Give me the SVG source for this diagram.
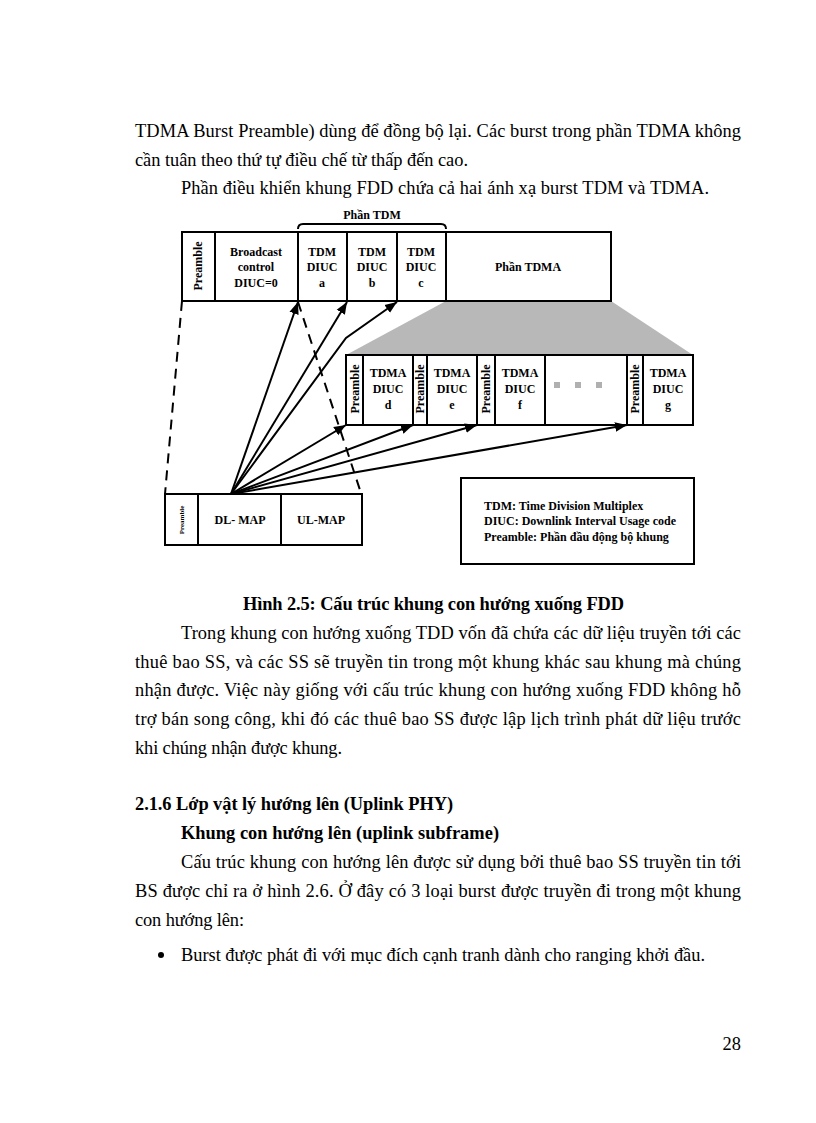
<svg xmlns="http://www.w3.org/2000/svg" width="816" height="1123" viewBox="0 0 816 1123">
<style>
.body{font-family:"Liberation Serif","Times New Roman",serif;font-size:18.4px;fill:#000}
.bold{font-weight:bold}
.lbl{font-family:"Liberation Serif","Times New Roman",serif;font-size:12px;font-weight:bold;fill:#000;text-anchor:middle}
.box{fill:#fff;stroke:#000;stroke-width:2}
.div{stroke:#000;stroke-width:2}
.arr{fill:none;stroke:#000;stroke-width:2;marker-end:url(#ah)}
.dash{fill:none;stroke:#000;stroke-width:2;stroke-dasharray:10 7}
.leg{font-family:"Liberation Serif","Times New Roman",serif;font-size:12px;font-weight:bold;fill:#000}
</style>
<defs>
<marker id="ah" viewBox="0 0 10 10" refX="10" refY="5" markerWidth="6" markerHeight="6" markerUnits="strokeWidth" orient="auto">
<path d="M0,1 L10,5 L0,9 z" fill="#000"/>
</marker>
</defs>
<rect width="816" height="1123" fill="#fff"/>

<g id="text-top">
<text class="body" x="135" y="137" textLength="606" lengthAdjust="spacing">TDMA Burst Preamble) dùng để đồng bộ lại. Các burst trong phần TDMA không</text>
<text class="body" x="135" y="166" textLength="333" lengthAdjust="spacing">cần tuân theo thứ tự điều chế từ thấp đến cao.</text>
<text class="body" x="181" y="194" textLength="528" lengthAdjust="spacing">Phần điều khiển khung FDD chứa cả hai ánh xạ burst TDM và TDMA.</text>
</g>

<g id="shade">
<polygon points="446,301 611,301 693,355 346,355" fill="#b8b8b8"/>
</g>

<g id="brace">
<path d="M298,229 Q298,224 303,224 L441,224 Q446,224 446,229" fill="none" stroke="#000" stroke-width="2"/>
<text class="lbl" x="372" y="219">Phần TDM</text>
</g>

<g id="top-frame">
<rect class="box" x="182" y="232" width="429" height="69"/>
<line class="div" x1="215" y1="232" x2="215" y2="301"/>
<line class="div" x1="298" y1="232" x2="298" y2="301"/>
<line class="div" x1="347" y1="232" x2="347" y2="301"/>
<line class="div" x1="397" y1="232" x2="397" y2="301"/>
<line class="div" x1="446" y1="232" x2="446" y2="301"/>
<text class="lbl" transform="translate(202,266) rotate(-90)">Preamble</text>
<text class="lbl" x="256" y="256">Broadcast</text>
<text class="lbl" x="256" y="271">control</text>
<text class="lbl" x="256" y="287">DIUC=0</text>
<text class="lbl" x="322" y="256">TDM</text>
<text class="lbl" x="322" y="271">DIUC</text>
<text class="lbl" x="322" y="287">a</text>
<text class="lbl" x="372" y="256">TDM</text>
<text class="lbl" x="372" y="271">DIUC</text>
<text class="lbl" x="372" y="287">b</text>
<text class="lbl" x="421" y="256">TDM</text>
<text class="lbl" x="421" y="271">DIUC</text>
<text class="lbl" x="421" y="287">c</text>
<text class="lbl" x="528" y="271">Phần TDMA</text>
</g>

<g id="tdma-frame">
<rect class="box" x="346" y="355" width="347" height="70"/>
<line class="div" x1="363" y1="355" x2="363" y2="425"/>
<line class="div" x1="413" y1="355" x2="413" y2="425"/>
<line class="div" x1="427" y1="355" x2="427" y2="425"/>
<line class="div" x1="477" y1="355" x2="477" y2="425"/>
<line class="div" x1="495" y1="355" x2="495" y2="425"/>
<line class="div" x1="545" y1="355" x2="545" y2="425"/>
<line class="div" x1="627" y1="355" x2="627" y2="425"/>
<line class="div" x1="643" y1="355" x2="643" y2="425"/>
<text class="lbl" transform="translate(359,389) rotate(-90)">Preamble</text>
<text class="lbl" transform="translate(424,389) rotate(-90)">Preamble</text>
<text class="lbl" transform="translate(490,389) rotate(-90)">Preamble</text>
<text class="lbl" transform="translate(639,389) rotate(-90)">Preamble</text>
<text class="lbl" x="388" y="377">TDMA</text>
<text class="lbl" x="388" y="393">DIUC</text>
<text class="lbl" x="388" y="409">d</text>
<text class="lbl" x="452" y="377">TDMA</text>
<text class="lbl" x="452" y="393">DIUC</text>
<text class="lbl" x="452" y="409">e</text>
<text class="lbl" x="520" y="377">TDMA</text>
<text class="lbl" x="520" y="393">DIUC</text>
<text class="lbl" x="520" y="409">f</text>
<text class="lbl" x="668" y="377">TDMA</text>
<text class="lbl" x="668" y="393">DIUC</text>
<text class="lbl" x="668" y="409">g</text>
<rect x="554" y="382" width="6" height="6" fill="#b0b0b0"/>
<rect x="575" y="382" width="6" height="6" fill="#b0b0b0"/>
<rect x="596" y="382" width="6" height="6" fill="#b0b0b0"/>
</g>

<g id="dl-frame">
<rect class="box" x="165" y="494" width="197" height="51"/>
<line class="div" x1="198" y1="494" x2="198" y2="545"/>
<line class="div" x1="281" y1="494" x2="281" y2="545"/>
<text class="lbl" style="font-size:7px" transform="translate(184,520) rotate(-90)">Preamble</text>
<text class="lbl" x="240" y="524">DL- MAP</text>
<text class="lbl" x="321" y="524">UL-MAP</text>
</g>

<g id="legend">
<rect class="box" x="461" y="478" width="233" height="86"/>
<text class="leg" x="484" y="510">TDM: Time Division Multiplex</text>
<text class="leg" x="484" y="525">DIUC: Downlink Interval Usage code</text>
<text class="leg" x="484" y="541">Preamble: Phần đầu động bộ khung</text>
</g>

<g id="connectors">
<line class="dash" x1="182" y1="301" x2="165" y2="494"/>
<line class="dash" x1="298" y1="302" x2="360" y2="490"/>
<line class="arr" x1="231" y1="494" x2="298" y2="302"/>
<line class="arr" x1="231" y1="494" x2="347" y2="302"/>
<polyline class="arr" points="231,494 346,338 397,302"/>
<line class="arr" x1="231" y1="494" x2="346" y2="425"/>
<line class="arr" x1="231" y1="494" x2="413" y2="425"/>
<line class="arr" x1="231" y1="494" x2="477" y2="425"/>
<line class="arr" x1="231" y1="494" x2="627" y2="425"/>
</g>

<g id="caption">
<text class="body bold" x="243" y="610" textLength="381" lengthAdjust="spacing">Hình 2.5: Cấu trúc khung con hướng xuống FDD</text>
</g>

<g id="text-bottom">
<text class="body" x="181" y="639" textLength="560" lengthAdjust="spacing">Trong khung con hướng xuống TDD vốn đã chứa các dữ liệu truyền tới các</text>
<text class="body" x="135" y="668" textLength="606" lengthAdjust="spacing">thuê bao SS, và các SS sẽ truyền tin trong một khung khác sau khung mà chúng</text>
<text class="body" x="135" y="696" textLength="606" lengthAdjust="spacing">nhận được. Việc này giống với cấu trúc khung con hướng xuống FDD không hỗ</text>
<text class="body" x="135" y="725" textLength="606" lengthAdjust="spacing">trợ bán song công, khi đó các thuê bao SS được lập lịch trình phát dữ liệu trước</text>
<text class="body" x="135" y="754" textLength="207" lengthAdjust="spacing">khi chúng nhận được khung.</text>
<text class="body bold" x="135" y="810" textLength="318" lengthAdjust="spacing">2.1.6 Lớp vật lý hướng lên (Uplink PHY)</text>
<text class="body bold" x="181" y="839" textLength="318" lengthAdjust="spacing">Khung con hướng lên (uplink subframe)</text>
<text class="body" x="181" y="868" textLength="560" lengthAdjust="spacing">Cấu trúc khung con hướng lên được sử dụng bởi thuê bao SS truyền tin tới</text>
<text class="body" x="135" y="897" textLength="606" lengthAdjust="spacing">BS được chỉ ra ở hình 2.6. Ở đây có 3 loại burst được truyền đi trong một khung</text>
<text class="body" x="135" y="926" textLength="109" lengthAdjust="spacing">con hướng lên:</text>
<circle cx="161" cy="955" r="3" fill="#000"/>
<text class="body" x="181" y="961" textLength="524" lengthAdjust="spacing">Burst được phát đi với mục đích cạnh tranh dành cho ranging khởi đầu.</text>
<text class="body" x="741" y="1050" text-anchor="end">28</text>
</g>
</svg>
